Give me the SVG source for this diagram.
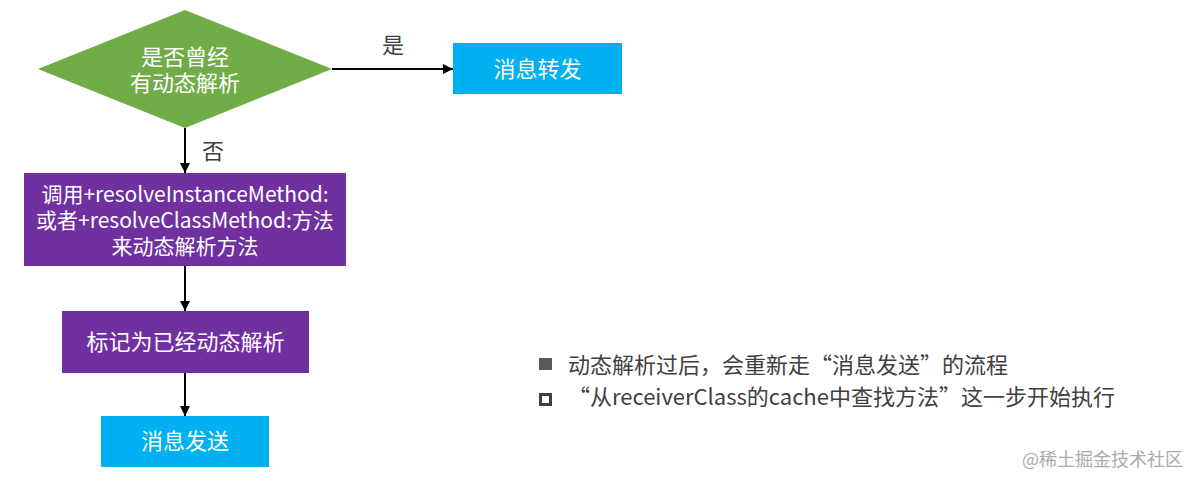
<svg xmlns="http://www.w3.org/2000/svg" width="1200" height="486" viewBox="0 0 1200 486">
<defs>
<marker id="arr" viewBox="0 0 10 10" refX="10" refY="5" markerWidth="10" markerHeight="10" markerUnits="userSpaceOnUse" orient="auto">
<path d="M0,0 L10,5 L0,10 z" fill="#000"/>
</marker>
<style>
.t{font-family:"Noto Sans CJK SC","Liberation Sans",sans-serif;font-size:22px;fill:#fff;text-anchor:middle}
.s{font-size:21px}
.lbl{font-family:"Noto Sans CJK SC","Liberation Sans",sans-serif;font-size:22px;fill:#404040;text-anchor:middle}
.b{font-family:"Noto Sans CJK SC","Liberation Sans",sans-serif;font-size:22px;fill:#404040}
.c{stroke:#000;stroke-width:2;fill:none;marker-end:url(#arr)}
</style>
</defs>
<rect width="1200" height="486" fill="#fff"/>
<g id="connectors">
<line class="c" x1="332" y1="69" x2="453" y2="69"/>
<line class="c" x1="185" y1="128" x2="185" y2="173"/>
<line class="c" x1="185" y1="266" x2="185" y2="311"/>
<line class="c" x1="185" y1="373" x2="185" y2="416"/>
<text class="lbl" x="393" y="53">是</text>
<text class="lbl" x="213" y="159">否</text>
</g>
<g id="decision">
<polygon points="38,69 185,10 332,69 185,128" fill="#70AD47"/>
<text class="t"><tspan x="185" y="65">是否曾经</tspan><tspan x="185" y="91">有动态解析</tspan></text>
</g>
<g id="forward">
<rect x="453" y="43" width="169" height="51" fill="#00B0F0"/>
<text class="t" x="537.5" y="77">消息转发</text>
</g>
<g id="resolve">
<rect x="24" y="173" width="322" height="93" fill="#7030A0"/>
<text class="t s"><tspan x="185" y="202">调用+resolveInstanceMethod:</tspan><tspan x="185" y="228">或者+resolveClassMethod:方法</tspan><tspan x="185" y="254">来动态解析方法</tspan></text>
</g>
<g id="mark">
<rect x="62" y="311" width="247" height="62" fill="#7030A0"/>
<text class="t" x="185.5" y="350">标记为已经动态解析</text>
</g>
<g id="send">
<rect x="101" y="416" width="168" height="51" fill="#00B0F0"/>
<text class="t" x="185" y="449">消息发送</text>
</g>
<g id="notes">
<rect x="539" y="358" width="13" height="12" fill="#595959"/>
<text class="b" x="568" y="373">动态解析过后，会重新走“消息发送”的流程</text>
<rect x="540.5" y="394.5" width="10" height="10" fill="none" stroke="#404040" stroke-width="3"/>
<text class="b" x="568" y="405">“从receiverClass的cache中查找方法”这一步开始执行</text>
</g>
<text x="1183" y="466" font-family="Noto Sans CJK SC,sans-serif" font-size="18" fill="#aaaaaa" text-anchor="end">@稀土掘金技术社区</text>
</svg>
